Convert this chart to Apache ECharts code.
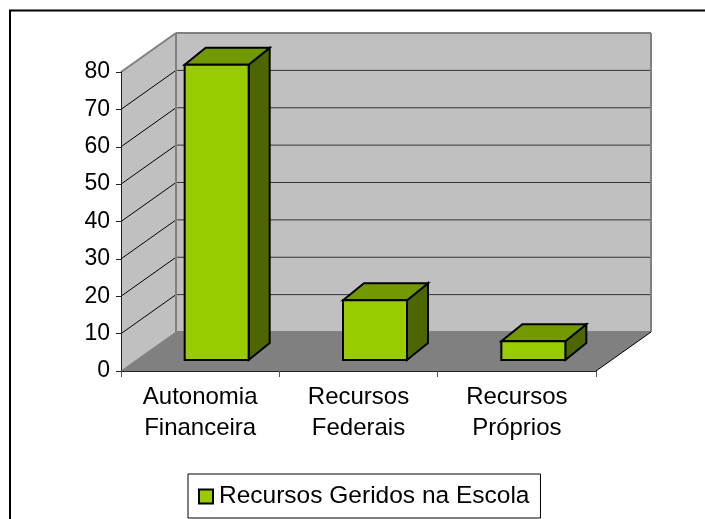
<!DOCTYPE html>
<html>
<head>
<meta charset="utf-8">
<style>html,body{margin:0;padding:0;background:#fff}#chart{width:705px;height:519px}</style>
<script src="https://cdn.jsdelivr.net/npm/echarts@6/dist/echarts.min.js"></script>
</head>
<body>
<div id="chart"></div>
<script>
var categories = ['Autonomia\nFinanceira', 'Recursos\nFederais', 'Recursos\nPróprios'];
var values = [79, 16, 5];
var seriesName = 'Recursos Geridos na Escola';
var yMax = 80;
var yStep = 10;

// deslocamento da parede do fundo e das barras (pseudo 3D)
var wallDx = 55, wallDy = -39;
var barDx = 16.5, barDy = -11;
var boxDx = 21, boxDy = -17;
var barWidth = 64;

var black = '#000';
var myChart = echarts.init(document.getElementById('chart'));

function poly(points, fill, stroke, width) {
    return {
        type: 'polygon',
        shape: { points: points },
        style: { fill: fill, stroke: stroke, lineWidth: width, lineJoin: 'miter' }
    };
}

function line(a, b, color, width) {
    return {
        type: 'line',
        shape: { x1: a[0], y1: a[1], x2: b[0], y2: b[1] },
        style: { stroke: color, lineWidth: width }
    };
}

function renderWalls(params, api) {
    var p00 = api.coord([0, 0]);
    var left = params.coordSys.x;
    var right = left + params.coordSys.width;
    var bottom = p00[1];
    var top = api.coord([0, yMax])[1];
    var kids = [
        // parede lateral, fundo, chao
        poly([[left, bottom], [left + wallDx, bottom + wallDy], [left + wallDx, top + wallDy], [left, top]], '#c0c0c0', null, 0),
        poly([[left + wallDx, bottom + wallDy], [right + wallDx, bottom + wallDy], [right + wallDx, top + wallDy], [left + wallDx, top + wallDy]], '#c0c0c0', null, 0),
        poly([[left, bottom], [right, bottom], [right + wallDx, bottom + wallDy], [left + wallDx, bottom + wallDy]], '#808080', null, 0)
    ];
    for (var v = yStep; v <= yMax - yStep; v += yStep) {
        var y = api.coord([0, v])[1];
        kids.push(line([left, y], [left + wallDx, y + wallDy], black, 1));
        kids.push(line([left + wallDx, y + wallDy], [right + wallDx, y + wallDy], '#333', 1));
    }
    // contorno cinza
    kids.push(line([left, top], [left + wallDx, top + wallDy], '#808080', 2));
    kids.push(line([left + wallDx, top + wallDy], [right + wallDx, top + wallDy], '#808080', 2));
    kids.push(line([left + wallDx, top + wallDy], [left + wallDx, bottom + wallDy], '#808080', 2));
    kids.push(line([right + wallDx, top + wallDy], [right + wallDx, bottom + wallDy], '#808080', 2));
    kids.push(line([left + wallDx, bottom + wallDy], [right + wallDx, bottom + wallDy], '#808080', 2));
    kids.push(line([left, bottom], [left + wallDx, bottom + wallDy], '#808080', 1));
    kids.push(line([right, bottom], [right + wallDx, bottom + wallDy], black, 1));
    return { type: 'group', silent: true, children: kids };
}

function renderBox(params, api) {
    var base = api.coord([api.value(0), 0]);
    var head = api.coord([api.value(0), api.value(1)]);
    var x0 = base[0] - barWidth / 2 + barDx;
    var x1 = x0 + barWidth;
    var y0 = base[1] + barDy;
    var y1 = head[1] + barDy;
    return {
        type: 'group',
        children: [
            poly([[x1, y1], [x1 + boxDx, y1 + boxDy], [x1 + boxDx, y0 + boxDy], [x1, y0]], '#4d6600', black, 2),
            poly([[x0, y1], [x0 + boxDx, y1 + boxDy], [x1 + boxDx, y1 + boxDy], [x1, y1]], '#739900', black, 2),
            poly([[x0, y1], [x1, y1], [x1, y0], [x0, y0]], '#99cc00', black, 2)
        ]
    };
}

var option = {
    backgroundColor: '#fff',
    animation: false,
    textStyle: { fontFamily: '"Liberation Sans", Arial, sans-serif' },
    grid: { left: 121, top: 72, width: 475, height: 299 },
    graphic: [{
        // moldura: so topo e esquerda aparecem na imagem
        type: 'polyline',
        shape: { points: [[10, 519], [10, 10.5], [705, 10.5]] },
        style: { fill: null, stroke: black, lineWidth: 2 },
        silent: true,
        z: 0
    }],
    legend: {
        left: 188,
        top: 474,
        padding: [10, 11, 9, 10],
        itemGap: 0,
        itemWidth: 14,
        itemHeight: 14,
        borderColor: black,
        borderWidth: 1,
        icon: 'rect',
        selectedMode: false,
        itemStyle: { color: '#99cc00', borderColor: black, borderWidth: 2 },
        textStyle: { color: black, fontSize: 24.5, padding: [0, 0, 0, 1] },
        data: [seriesName]
    },
    xAxis: {
        type: 'category',
        data: categories,
        boundaryGap: true,
        axisLine: { show: true, lineStyle: { color: '#222', width: 1 } },
        axisTick: { show: true, alignWithLabel: false, length: 6, lineStyle: { color: '#555' } },
        axisLabel: { color: black, fontSize: 24, lineHeight: 31, margin: 11, interval: 0 },
        splitLine: { show: false },
        z: 5
    },
    yAxis: {
        type: 'value',
        min: 0,
        max: yMax,
        interval: yStep,
        axisLine: { show: true, lineStyle: { color: '#222', width: 1 } },
        axisTick: { show: true, length: 5, lineStyle: { color: '#222' } },
        axisLabel: { color: black, fontSize: 23, margin: 11 },
        splitLine: { show: false },
        z: 5
    },
    series: [{
        type: 'custom',
        name: 'walls',
        renderItem: renderWalls,
        data: [[0, 0]],
        clip: false,
        silent: true,
        z: 1
    }, {
        type: 'custom',
        name: seriesName,
        renderItem: renderBox,
        encode: { x: 0, y: 1 },
        data: values.map(function (v, i) { return [i, v]; }),
        clip: false,
        itemStyle: { color: '#99cc00' },
        z: 3
    }]
};

myChart.setOption(option);
</script>
</body>
</html>
